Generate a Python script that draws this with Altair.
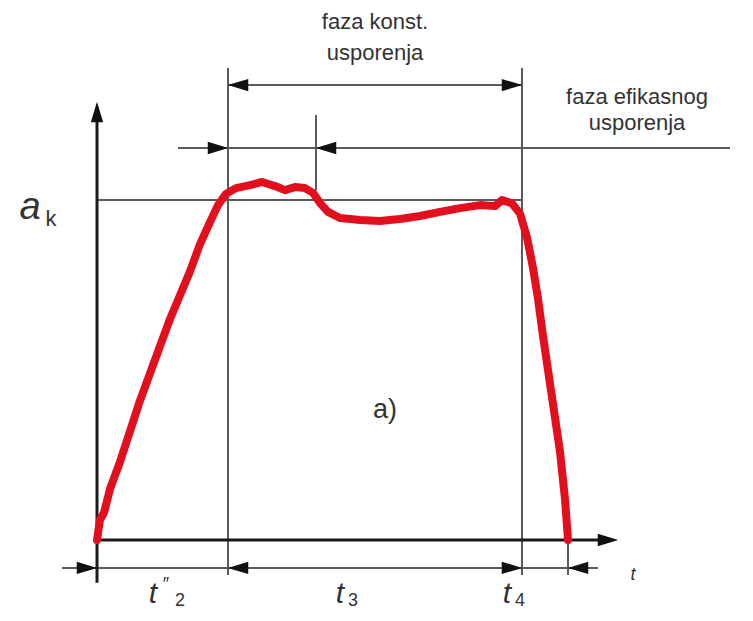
import altair as alt
import pandas as pd

# ---- curve: deceleration a (relative to a_k) vs time t ----
curve_t = [0.00, 0.06, 0.14, 0.26, 0.46, 0.66, 0.86, 1.06, 1.26, 1.46, 1.66, 1.86, 2.06, 2.26,
           2.42, 2.58, 2.78, 3.06, 3.30, 3.56, 3.76, 3.96, 4.16, 4.32, 4.46, 4.62, 4.86, 5.26,
           5.66, 6.06, 6.46, 6.86, 7.26, 7.66, 7.96, 8.10, 8.30, 8.46, 8.60, 8.72, 8.82, 8.92,
           9.06, 9.16, 9.26, 9.36, 9.42]
curve_a = [0.00, 0.06, 0.08, 0.15, 0.23, 0.32, 0.41, 0.49, 0.57, 0.65, 0.72, 0.79, 0.87, 0.935,
           0.985, 1.018, 1.035, 1.044, 1.053, 1.041, 1.029, 1.038, 1.035, 1.021, 0.991, 0.965, 0.947,
           0.941, 0.938, 0.944, 0.953, 0.965, 0.976, 0.985, 0.982, 1.00, 0.99, 0.96, 0.89, 0.80,
           0.71, 0.60, 0.46, 0.36, 0.26, 0.12, 0.00]

# ---- straight guide lines (t1, a1, t2, a2, kind) ----
seg_t1 = [0.00, 0.00, 0.00, 2.62, 8.50, 4.38, 2.62, 1.62, -0.70, 9.42]
seg_a1 = [-0.126, 0.00, 1.00, -0.103, -0.103, 1.029, 1.338, 1.153, -0.082, 0.00]
seg_t2 = [0.00, 10.30, 8.50, 2.62, 8.50, 4.38, 8.50, 12.66, 10.02, 9.42]
seg_a2 = [1.26, 0.00, 1.00, 1.388, 1.388, 1.25, 1.338, 1.153, -0.082, -0.103]
seg_kind = ["axis", "axis", "guide", "guide", "guide", "guide", "guide", "guide", "guide", "guide"]

# ---- arrowheads ----
arr_t = [0.00, 10.22, 2.82, 8.30, 2.42, 4.58, -0.20, 2.82, 8.30, 9.62]
arr_a = [1.259, 0.00, 1.338, 1.338, 1.153, 1.153, -0.082, -0.082, -0.082, -0.082]
arr_dir = ["up", "right", "left", "right", "right", "left", "right", "left", "right", "left"]

# ---- labels ----
lab_text = ["faza konst.", "usporenja", "faza efikasnog", "usporenja", "a)"]
lab_t = [5.56, 5.56, 10.80, 10.80, 5.76]
lab_a = [1.524, 1.432, 1.303, 1.226, 0.382]
lab_size = [22, 22, 22, 22, 27]

sym_text = ["a", "k", "t", "t", "\u2033", "2", "t", "3", "t", "4"]
sym_t = [-1.34, -0.92, 10.72, 1.12, 1.38, 1.66, 4.86, 5.12, 8.20, 8.46]
sym_a = [0.975, 0.945, -0.103, -0.160, -0.132, -0.180, -0.160, -0.180, -0.160, -0.180]
sym_size = [38, 22, 18, 30, 18, 18, 30, 18, 30, 18]
sym_style = ["italic", "normal", "italic", "italic", "normal", "normal", "italic", "normal", "italic", "normal"]

T_DOM = [-1.78, 12.96]
A_DOM = [-0.2147, 1.5647]

xs = alt.Scale(domain=T_DOM, nice=False, zero=False)
ys = alt.Scale(domain=A_DOM, nice=False, zero=False)

curve = pd.DataFrame({"t": curve_t, "a": curve_a})
segs = pd.DataFrame({"t1": seg_t1, "a1": seg_a1, "t2": seg_t2, "a2": seg_a2, "kind": seg_kind})
arrs = pd.DataFrame({"t": arr_t, "a": arr_a, "dir": arr_dir})
labs = pd.DataFrame({"text": lab_text, "t": lab_t, "a": lab_a, "size": lab_size})
syms = pd.DataFrame({"text": sym_text, "t": sym_t, "a": sym_a, "size": sym_size, "style": sym_style})

guides = alt.Chart(segs).transform_filter(alt.datum.kind == "guide").mark_rule(
    color="#5a5a5a", strokeWidth=2
).encode(
    x=alt.X("t1:Q", scale=xs, axis=None), y=alt.Y("a1:Q", scale=ys, axis=None),
    x2="t2:Q", y2="a2:Q",
)
axes = alt.Chart(segs).transform_filter(alt.datum.kind == "axis").mark_rule(
    color="#1a1a1a", strokeWidth=3
).encode(
    x=alt.X("t1:Q", scale=xs, axis=None), y=alt.Y("a1:Q", scale=ys, axis=None),
    x2="t2:Q", y2="a2:Q",
)

red = alt.Chart(curve).mark_line(
    color="#e2101e", strokeWidth=8, strokeJoin="round", strokeCap="round"
).encode(
    x=alt.X("t:Q", scale=xs, axis=None), y=alt.Y("a:Q", scale=ys, axis=None), order="t:Q"
)

shapes = {
    "right": "M 1 0 L -1 -0.6 L -1 0.6 Z",
    "left": "M -1 0 L 1 -0.6 L 1 0.6 Z",
    "up": "M 0 -1 L -0.6 1 L 0.6 1 Z",
}
heads = []
for d, p in shapes.items():
    heads.append(
        alt.Chart(arrs).transform_filter(alt.datum.dir == d).mark_point(
            shape=p, filled=True, color="#111111", opacity=1, size=420
        ).encode(x=alt.X("t:Q", scale=xs, axis=None), y=alt.Y("a:Q", scale=ys, axis=None))
    )

labels = alt.Chart(labs).mark_text(
    font="Liberation Sans", color="#333333", align="center", baseline="middle"
).encode(
    x=alt.X("t:Q", scale=xs, axis=None), y=alt.Y("a:Q", scale=ys, axis=None), text="text:N",
    size=alt.Size("size:Q", scale=None, legend=None),
)

symbol_layers = []
for i in range(len(sym_text)):
    symbol_layers.append(
        alt.Chart(syms.iloc[[i]]).mark_text(
            font="Liberation Sans", fontSize=sym_size[i], fontStyle=sym_style[i],
            color="#333333", align="center", baseline="middle"
        ).encode(
            x=alt.X("t:Q", scale=xs, axis=None), y=alt.Y("a:Q", scale=ys, axis=None), text="text:N"
        )
    )

chart = alt.layer(guides, axes, red, *heads, labels, *symbol_layers).properties(
    width=737, height=605, padding=0, autosize="none"
).configure(background="white", view=alt.ViewConfig(stroke=None))

chart.save("out.html", embed_options={"renderer": "svg", "actions": False})
